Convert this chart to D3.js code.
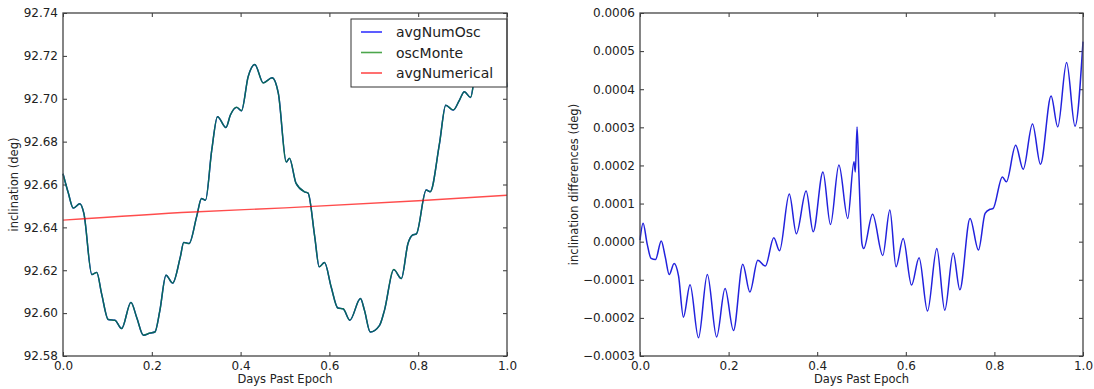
<!DOCTYPE html>
<html>
<head>
<meta charset="utf-8">
<script src="https://cdn.jsdelivr.net/npm/d3@7"></script>
<style>
  body { margin: 0; background: #fff; }
  text { font-family: "DejaVu Sans", sans-serif; fill: #222; }
  .tick text { font-size: 12px; }
  .axis-label { font-size: 11.5px; }
  .legend-text { font-size: 14px; }
</style>
</head>
<body>
<svg id="chart" width="1094" height="389"></svg>
<script>
// x positions are "days past epoch"
const xTicks = [0.0, 0.2, 0.4, 0.6, 0.8, 1.0];
const leftYTicks = [92.58, 92.60, 92.62, 92.64, 92.66, 92.68, 92.70, 92.72, 92.74];
const rightYTicks = [-0.0003, -0.0002, -0.0001, 0, 0.0001, 0.0002, 0.0003, 0.0004, 0.0005, 0.0006];
const legendNames = ["avgNumOsc", "oscMonte", "avgNumerical"];

const oscDays = [0.000, 0.012, 0.023, 0.038, 0.047, 0.065, 0.076, 0.087, 0.102, 0.117, 0.132, 0.153, 0.166, 0.181, 0.196, 0.207,
  0.218, 0.232, 0.247, 0.264, 0.272, 0.284, 0.301, 0.312, 0.321, 0.335, 0.348, 0.367, 0.377, 0.391, 0.402, 0.417,
  0.432, 0.451, 0.471, 0.485, 0.503, 0.510, 0.525, 0.544, 0.552, 0.567, 0.577, 0.589, 0.604, 0.619, 0.631, 0.646,
  0.670, 0.679, 0.692, 0.713, 0.724, 0.745, 0.762, 0.777, 0.787, 0.796, 0.818, 0.827, 0.848, 0.862, 0.879, 0.893,
  0.904, 0.918, 0.930, 0.945, 0.958, 0.972, 0.985, 0.993, 1.000];
const oscMonte = [92.665, 92.656, 92.649, 92.651, 92.6465, 92.618, 92.619, 92.609, 92.597, 92.5967, 92.5928, 92.605, 92.598, 92.5897, 92.5907, 92.5912,
  92.601, 92.6177, 92.614, 92.626, 92.633, 92.6325, 92.645, 92.6535, 92.6527, 92.676, 92.6916, 92.6866, 92.6924, 92.696, 92.6944, 92.7103,
  92.716, 92.7074, 92.7098, 92.7025, 92.6705, 92.6722, 92.6605, 92.6566, 92.656, 92.6356, 92.6216, 92.6236, 92.6122, 92.6024, 92.602, 92.5967,
  92.6068, 92.6013, 92.5912, 92.5943, 92.6013, 92.6203, 92.6161, 92.6325, 92.6364, 92.637, 92.6574, 92.6566, 92.6792, 92.697, 92.6947, 92.6994,
  92.7033, 92.7006, 92.7134, 92.7165, 92.714, 92.716, 92.719, 92.715, 92.7056];
// avgNumOsc sits under oscMonte at this scale
const avgNumOsc = oscMonte.slice();

const numDays = [0.0, 0.293, 0.5, 0.8, 1.0];
const avgNumerical = [92.6434, 92.6472, 92.6491, 92.6524, 92.655];

const diffDays = [0.000, 0.007, 0.016, 0.025, 0.035, 0.048, 0.057, 0.066, 0.077, 0.087, 0.098, 0.113, 0.132, 0.152, 0.173, 0.192,
  0.211, 0.232, 0.248, 0.266, 0.283, 0.302, 0.315, 0.337, 0.353, 0.375, 0.391, 0.413, 0.430, 0.449, 0.469, 0.483,
  0.486, 0.490, 0.494, 0.501, 0.505, 0.525, 0.548, 0.564, 0.578, 0.594, 0.613, 0.630, 0.649, 0.670, 0.688, 0.707,
  0.722, 0.745, 0.764, 0.779, 0.790, 0.797, 0.818, 0.827, 0.848, 0.865, 0.886, 0.904, 0.928, 0.943, 0.963, 0.982, 1.000];
const inclDiff = [0.04e-4, 0.48e-4, -0.05e-4, -0.44e-4, -0.47e-4, 0.02e-4, -0.40e-4, -0.86e-4, -0.57e-4, -0.90e-4, -1.98e-4, -1.13e-4, -2.52e-4, -0.86e-4, -2.50e-4, -1.23e-4,
  -2.33e-4, -0.59e-4, -1.32e-4, -0.49e-4, -0.64e-4, 0.10e-4, -0.24e-4, 1.25e-4, 0.21e-4, 1.33e-4, 0.26e-4, 1.83e-4, 0.45e-4, 2.01e-4, 0.61e-4, 2.10e-4,
  1.83e-4, 3.01e-4, 1.80e-4, -0.05e-4, -0.18e-4, 0.72e-4, -0.36e-4, 0.83e-4, -0.66e-4, 0.08e-4, -1.14e-4, -0.42e-4, -1.82e-4, -0.18e-4, -1.80e-4, -0.30e-4,
  -1.26e-4, 0.61e-4, -0.22e-4, 0.74e-4, 0.85e-4, 0.87e-4, 1.70e-4, 1.57e-4, 2.53e-4, 1.90e-4, 3.09e-4, 2.03e-4, 3.82e-4, 3.01e-4, 4.70e-4, 3.03e-4, 5.25e-4];

const svg = d3.select("#chart");
const plotTop = 13, plotBottom = 356;

function panel(left, right, yDomain, yTickVals, yFormat, yLabel, labelX) {
  const x = d3.scaleLinear().domain([0, 1]).range([left, right]);
  const y = d3.scaleLinear().domain(yDomain).range([plotBottom, plotTop]);
  const g = svg.append("g");

  const frame = (sel) => sel.call(s => s.select(".domain").remove())
    .call(s => s.selectAll(".tick line").attr("stroke", "#333"));

  g.append("g").attr("transform", `translate(0,${plotBottom})`)
    .call(d3.axisBottom(x).tickValues(xTicks).tickFormat(d3.format(".1f")).tickSizeInner(-4).tickPadding(5))
    .call(frame);
  g.append("g").attr("transform", `translate(0,${plotTop})`)
    .call(d3.axisTop(x).tickValues(xTicks).tickFormat("").tickSizeInner(-4))
    .call(frame);
  g.append("g").attr("transform", `translate(${left},0)`)
    .call(d3.axisLeft(y).tickValues(yTickVals).tickFormat(yFormat).tickSizeInner(-4).tickPadding(5))
    .call(frame);
  g.append("g").attr("transform", `translate(${right},0)`)
    .call(d3.axisRight(y).tickValues(yTickVals).tickFormat("").tickSizeInner(-4))
    .call(frame);
  g.selectAll(".tick text").attr("fill", "#222").style("font-family", "DejaVu Sans");

  g.append("text").attr("class", "axis-label")
    .attr("x", (left + right) / 2).attr("y", 383)
    .attr("text-anchor", "middle").text("Days Past Epoch");
  g.append("text").attr("class", "axis-label")
    .attr("transform", `translate(${labelX},${(plotTop + plotBottom) / 2}) rotate(-90)`)
    .attr("text-anchor", "middle").text(yLabel);

  return {g, x, y};
}

function drawLine(p, xs, ys, color, width, opacity) {
  const line = d3.line()
    .x((d, i) => p.x(xs[i]))
    .y(d => p.y(d))
    .curve(d3.curveMonotoneX);
  p.g.append("path").datum(ys)
    .attr("d", line)
    .attr("fill", "none")
    .attr("stroke", color)
    .attr("stroke-width", width)
    .attr("stroke-opacity", opacity || 1);
}

/* left panel */
const L = panel(63, 507, [92.58, 92.74], leftYTicks, d3.format(".2f"), "inclination (deg)", 18);
drawLine(L, oscDays, avgNumOsc, "#0000ff", 1.4);
drawLine(L, oscDays, oscMonte, "#0b7a3a", 1.5, 0.85);
drawLine(L, numDays, avgNumerical, "#ff0000", 1.4, 0.7);

// legend
const legend = L.g.append("g");
legend.append("rect")
  .attr("x", 351).attr("y", 19).attr("width", 156).attr("height", 68)
  .attr("fill", "#fff").attr("stroke", "#333").attr("stroke-width", 1);
const legendColors = ["#0000ff", "#008000", "#ff0000"];
legendNames.forEach((name, i) => {
  const ly = 32 + i * 20.5;
  legend.append("line")
    .attr("x1", 361).attr("x2", 382).attr("y1", ly).attr("y2", ly)
    .attr("stroke", legendColors[i]).attr("stroke-width", 1.6)
    .attr("stroke-opacity", i === 0 ? 0.8 : 0.7);
  legend.append("text").attr("class", "legend-text")
    .attr("x", 396).attr("y", ly + 5).text(name);
});

// spines on top
L.g.append("rect").attr("x", 63).attr("y", plotTop).attr("width", 444).attr("height", plotBottom - plotTop)
  .attr("fill", "none").attr("stroke", "#444").attr("stroke-width", 1.3);

/* right panel */
const R = panel(640, 1083, [-0.0003, 0.0006], rightYTicks, d3.format(".4f"), "inclination differences (deg)", 578);
drawLine(R, diffDays, inclDiff, "#2222dd", 1.5);
R.g.append("rect").attr("x", 640).attr("y", plotTop).attr("width", 443).attr("height", plotBottom - plotTop)
  .attr("fill", "none").attr("stroke", "#444").attr("stroke-width", 1.3);
</script>
</body>
</html>
